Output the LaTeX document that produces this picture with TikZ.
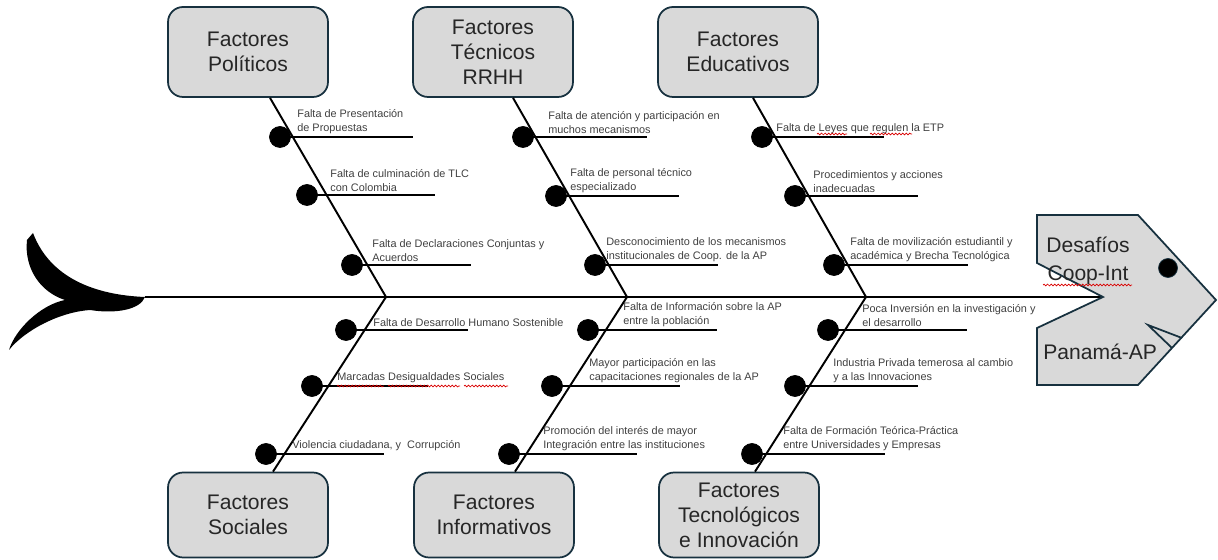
\documentclass[tikz,border=0pt]{standalone}
\usepackage{fontspec}
\setmainfont{Liberation Sans}
\usetikzlibrary{calc}
\usetikzlibrary{decorations.pathmorphing}
\definecolor{boxgray}{HTML}{D9D9D9}
\definecolor{boxline}{HTML}{17313F}
\definecolor{labelgray}{HTML}{404040}
\definecolor{titlegray}{HTML}{262626}
\tikzstyle{category}=[rectangle,rounded corners=0.3cm,draw=boxline,line width=1pt,fill=boxgray,minimum width=3.2cm,align=center,text=titlegray,font=\fontsize{12}{14.2}\selectfont,inner sep=0pt]
\tikzstyle{headtext}=[text=titlegray,font=\fontsize{12}{14.2}\selectfont,inner sep=0pt]
\tikzstyle{cause}=[circle,fill=black,draw=black,minimum size=0.42cm,inner sep=0pt]
\tikzstyle{eye}=[circle,fill=black,draw=boxline,minimum size=0.38cm,inner sep=0pt]
\tikzstyle{bone} = [draw,line width=1.1pt]
\tikzstyle{causeline} = [draw,line width=1pt]
\tikzstyle{causetext} = [anchor=south west,align=left,inner sep=0pt,text=labelgray,font=\fontsize{6.2}{7.9}\selectfont]
\tikzstyle{head} = [fill=boxgray,draw=boxline,line width=1pt,line join=miter]
\tikzstyle{spell} = [draw=red!85!black,line width=0.4pt,decorate,decoration={snake,amplitude=0.5pt,segment length=2pt}]

\begin{document}
\begin{tikzpicture}[x=0.02cm,y=-0.02cm]
    \useasboundingbox (0,0) rectangle (1218,560);
    % First we draw the six category boxes
    \foreach \pos/\name/\label in {{(248,52)/polit/Factores\\Políticos}, {(493,52)/tecni/Factores\\Técnicos\\RRHH}, {(738,52)/educa/Factores\\Educativos}}
        \node[category, minimum height=1.8cm] (\name) at \pos {\label};
    \foreach \pos/\name/\label in {{(248,515)/socia/Factores\\Sociales}, {(494,515)/infor/Factores\\Informativos}, {(739,515)/tecno/Factores\\Tecnológicos\\e Innovación}}
        \node[category, minimum height=1.7cm] (\name) at \pos {\label};

    % Points on the spine where the bones meet
    \coordinate (tail) at (145,297);
    \coordinate (mouth) at (1103,297);
    \foreach \x/\name in {386/j1, 627/j2, 866/j3}
        \coordinate (\name) at (\x,297);

    % Spine and bones
    \path[bone] (tail) -- (mouth);
    \foreach \source/\side/\shift/\dest in {polit/south/22/j1, tecni/south/20/j2, educa/south/15/j3, socia/north/25/j1, infor/north/21/j2, tecno/north/16/j3}
        \path[bone] ($(\source.\side)+(\shift,0)$) -- (\dest);

    % The tail
    \fill (145,297) .. controls (95,295) and (50,278) .. (33,233) -- (27,240)
        .. controls (24,268) and (40,292) .. (65,300)
        .. controls (40,305) and (15,330) .. (9,350)
        .. controls (25,330) and (60,312) .. (90,310)
        .. controls (115,314) and (140,310) .. (145,297) -- cycle;

    % Then the causes: dot, line and text
    \foreach \x/\y/\name/\len/\gap/\label in {
    {280/137/p1/133/17/Falta de Presentación\\de Propuestas},
    {307/195/p2/128/23/Falta de culminación de TLC\\con Colombia},
    {352/265/p3/119/20/Falta de Declaraciones Conjuntas y\\Acuerdos},
    {523/137/t1/124/25/Falta de atención y participación en\\muchos mecanismos},
    {556/196/t2/123/14/Falta de personal técnico\\especializado},
    {595/265/t3/123/11/Desconocimiento de los mecanismos\\institucionales de Coop. de la AP},
    {762/137/e1/122/14/Falta de Leyes que regulen la ETP},
    {795/196/e2/123/18/Procedimientos y acciones\\inadecuadas},
    {834/265/e3/134/16/Falta de movilización estudiantil y\\académica y Brecha Tecnológica},
    {346/330/s1/122/27/Falta de Desarrollo Humano Sostenible},
    {312/386/s2/116/25/Marcadas Desigualdades Sociales},
    {266/454/s3/118/26/{Violencia ciudadana, y \ Corrupción}},
    {588/330/i1/129/35/Falta de Información sobre la AP\\entre la población},
    {552/386/i2/128/37/Mayor participación en las\\capacitaciones regionales de la AP},
    {509/454/i3/128/34/Promoción del interés de mayor\\Integración entre las instituciones},
    {828/330/n1/139/34/Poca Inversión en la investigación y\\el desarrollo},
    {795/386/n2/123/38/Industria Privada temerosa al cambio\\y a las Innovaciones},
    {752/454/n3/133/31/Falta de Formación Teórica-Práctica\\entre Universidades y Empresas}}
    {
        \node[cause] (\name) at (\x,\y) {};
        \coordinate (\name-end) at (\x+\len,\y);
        \path[causeline] (\name.center) -- (\name-end);
        \node[causetext] (\name-txt) at (\x+\gap,\y-3) {\label};
    }

    % The head of the fish
    \filldraw[head] (1037,215) -- (1138,215) -- (1216,300) -- (1138,385) -- (1037,385) -- (1037,328) -- (mouth) -- (1037,263) -- cycle;
    \node[eye] (eye) at (1168,268) {};
    \draw[draw=boxline,line width=1pt] (1182,338) -- (1148,325) -- (1172,348);
    \node[headtext, anchor=base] (desafios) at (1088,253) {Desafíos};
    \node[headtext, anchor=base] (coopint) at (1088,281) {Coop-Int};
    \node[headtext, anchor=base west] (panama) at (1043,360) {Panamá-AP};

    % spell-check squiggles
    \foreach \a/\b/\y in {1043/1132/285, 817/847/134, 870/912/134, 337/384/386, 388/460/386, 464/508/386}
        \path[spell] (\a,\y) -- (\b,\y);
\end{tikzpicture}
\end{document}
